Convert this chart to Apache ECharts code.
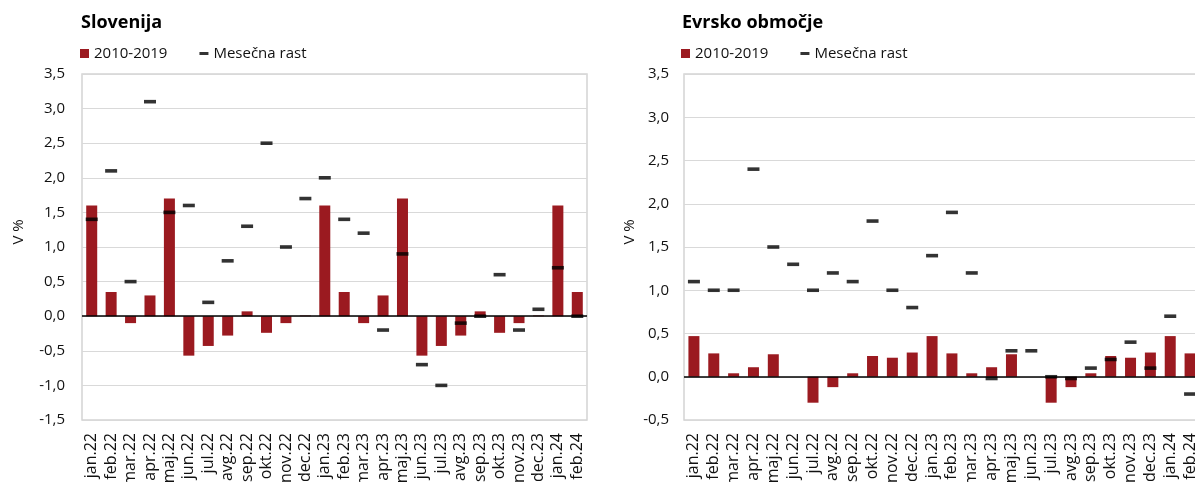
<!DOCTYPE html>
<html>
<head>
<meta charset="utf-8">
<title>Slovenija / Evrsko območje</title>
<script src="https://cdn.jsdelivr.net/npm/echarts@6/dist/echarts.min.js"></script>
<style>
  html, body { margin: 0; padding: 0; background: #fff; overflow: hidden; }
  #chart { width: 1195px; height: 482px; }
</style>
</head>
<body>
<div id="chart"></div>
<script>
    const months = ['jan.22', 'feb.22', 'mar.22', 'apr.22', 'maj.22', 'jun.22', 'jul.22', 'avg.22', 'sep.22', 'okt.22', 'nov.22', 'dec.22',
        'jan.23', 'feb.23', 'mar.23', 'apr.23', 'maj.23', 'jun.23', 'jul.23', 'avg.23', 'sep.23', 'okt.23', 'nov.23', 'dec.23',
        'jan.24', 'feb.24']

    // Slovenija
    const siAvg = [1.6, 0.35, -0.1, 0.3, 1.7, -0.57, -0.43, -0.28, 0.07, -0.24, -0.1, 0.01,
        1.6, 0.35, -0.1, 0.3, 1.7, -0.57, -0.43, -0.28, 0.07, -0.24, -0.1, 0.01,
        1.6, 0.35]
    const siMonthly = [1.4, 2.1, 0.5, 3.1, 1.5, 1.6, 0.2, 0.8, 1.3, 2.5, 1.0, 1.7,
        2.0, 1.4, 1.2, -0.2, 0.9, -0.7, -1.0, -0.1, 0.0, 0.6, -0.2, 0.1,
        0.7, 0.0]

    // Evrsko območje
    const eaAvg = [0.47, 0.27, 0.04, 0.11, 0.26, 0.0, -0.3, -0.12, 0.04, 0.24, 0.22, 0.28,
        0.47, 0.27, 0.04, 0.11, 0.26, 0.0, -0.3, -0.12, 0.04, 0.24, 0.22, 0.28,
        0.47, 0.27]
    const eaMonthly = [1.1, 1.0, 1.0, 2.4, 1.5, 1.3, 1.0, 1.2, 1.1, 1.8, 1.0, 0.8,
        1.4, 1.9, 1.2, -0.02, 0.3, 0.3, 0.0, -0.02, 0.1, 0.2, 0.4, 0.1,
        0.7, -0.2]

    const barColor = '#9b1a20'
    const gridColor = '#d9d9d9'
    const textColor = '#111'
    const font = '"Open Sans", "Noto Sans", sans-serif'

    const commaFmt = v => v.toFixed(1).replace('.', ',')

    function xAxisFor(idx) {
        return {
            type: 'category',
            gridIndex: idx,
            data: months,
            axisLine: { show: false, onZero: false },
            axisTick: { show: false },
            axisLabel: { interval: 0, rotate: 90, margin: 13, fontSize: 16, color: textColor, fontFamily: font }
        }
    }

    function yAxisFor(idx, min) {
        return {
            type: 'value',
            gridIndex: idx,
            min: min,
            max: 3.5,
            interval: 0.5,
            name: 'V %',
            nameLocation: 'middle',
            nameGap: idx === 0 ? 56 : 47,
            nameTextStyle: { fontSize: 15, color: textColor, fontFamily: font, padding: [0, 0, 0, 30] },
            axisLine: { show: false },
            axisTick: { show: false },
            axisLabel: { fontSize: 15, color: textColor, fontFamily: font, margin: idx === 0 ? 17 : 15, formatter: commaFmt },
            splitLine: { lineStyle: { color: gridColor, width: 1 } }
        }
    }

    function barSeries(idx, data) {
        return {
            name: '2010-2019',
            type: 'bar',
            xAxisIndex: idx,
            yAxisIndex: idx,
            data: data,
            barWidth: 11,
            itemStyle: { color: barColor },
            markLine: {
                silent: true,
                symbol: 'none',
                label: { show: false },
                lineStyle: { color: '#000', type: 'solid', width: 1.6 },
                data: [{ yAxis: 0 }]
            }
        }
    }

    function dashSeries(idx, data) {
        return {
            name: 'Mesečna rast',
            type: 'scatter',
            xAxisIndex: idx,
            yAxisIndex: idx,
            data: data,
            symbol: 'rect',
            symbolSize: [12, 3.6],
            itemStyle: { color: '#000' },
            z: 5
        }
    }

    function legendAt(left) {
        return {
            left: left,
            top: 46,
            padding: 0,
            itemWidth: 9,
            itemHeight: 9,
            itemGap: 32,
            textStyle: { fontSize: 15, color: textColor, fontFamily: font },
            data: [
                { name: '2010-2019', icon: 'rect' },
                { name: 'Mesečna rast', icon: 'path://M0,0h9v3h-9z', itemStyle: { color: '#000', borderWidth: 0 } }
            ]
        }
    }

    const chart = echarts.init(document.getElementById('chart'), null, { renderer: 'canvas' })

    chart.setOption({
        animation: false,
        title: [
            { text: 'Slovenija', left: 81, top: 14, padding: 0, textStyle: { fontSize: 18, fontWeight: 'bold', color: '#000', fontFamily: font } },
            { text: 'Evrsko območje', left: 682, top: 14, padding: 0, textStyle: { fontSize: 18, fontWeight: 'bold', color: '#000', fontFamily: font } }
        ],
        legend: [legendAt(80), legendAt(681)],
        grid: [
            { left: 82, top: 74, width: 505, height: 346, outerBoundsMode: 'none', show: true, borderColor: '#d4d4d4', borderWidth: 1.5 },
            { left: 684, top: 74, width: 516, height: 346, outerBoundsMode: 'none', show: true, borderColor: '#d4d4d4', borderWidth: 1.5 }
        ],
        xAxis: [xAxisFor(0), xAxisFor(1)],
        yAxis: [yAxisFor(0, -1.5), yAxisFor(1, -0.5)],
        series: [
            barSeries(0, siAvg),
            dashSeries(0, siMonthly),
            barSeries(1, eaAvg),
            dashSeries(1, eaMonthly)
        ]
    })
</script>
</body>
</html>
